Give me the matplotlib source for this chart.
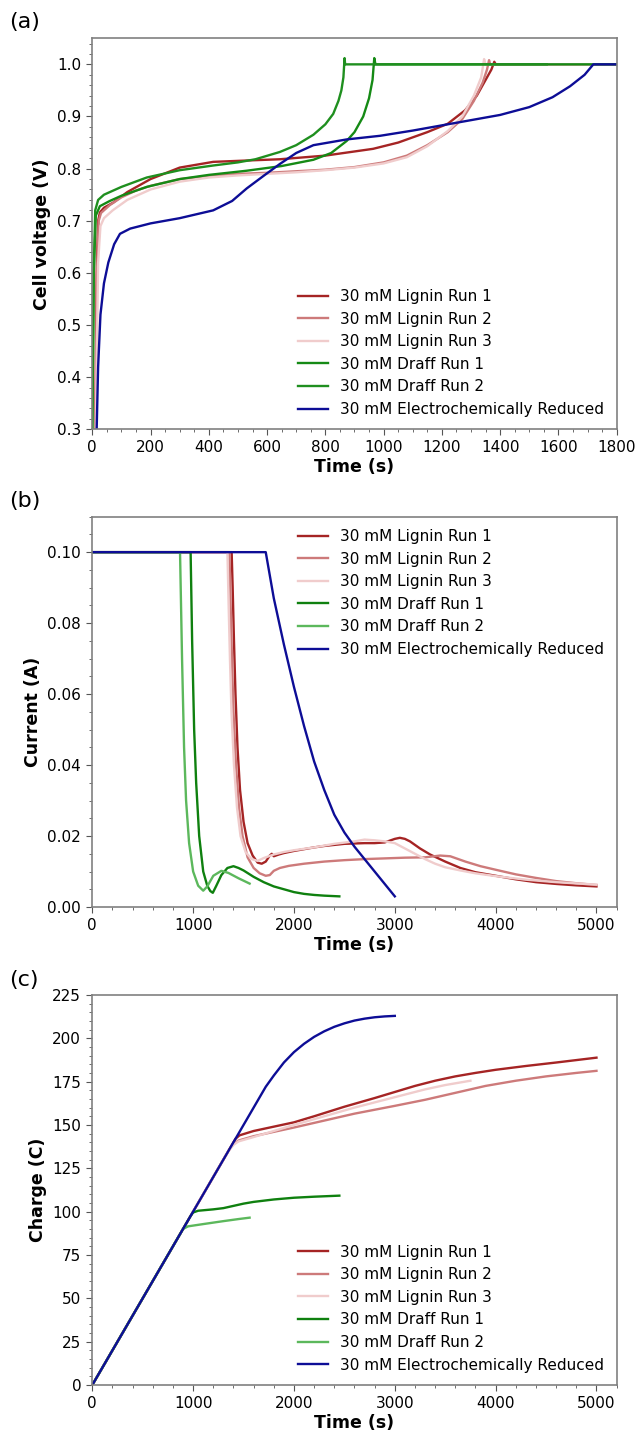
import numpy as np
import matplotlib
matplotlib.use('Agg')
import matplotlib.pyplot as plt

labels = ['30 mM Lignin Run 1', '30 mM Lignin Run 2', '30 mM Lignin Run 3',
          '30 mM Draff Run 1', '30 mM Draff Run 2', '30 mM Electrochemically Reduced']
colors_a = ['#a52424', '#cd7a7a', '#f0cccc', '#158a15', '#1f8f1f', '#0d0d96']
colors_bc = ['#a52424', '#cd7a7a', '#f0cccc', '#0f800f', '#5cb85c', '#0d0d96']

# (a) cell voltage
L1_a_t = [10, 15, 20, 26, 40, 72, 120, 200, 300, 415, 550, 644, 800, 964, 1050, 1150, 1220, 1280, 1320, 1350, 1370, 1380, 1385, 5000]
L1_a_v = [0.3, 0.6, 0.70, 0.716, 0.725, 0.735, 0.755, 0.78, 0.802, 0.813, 0.816, 0.818, 0.825, 0.838, 0.85, 0.87, 0.886, 0.912, 0.94, 0.97, 0.99, 1.005, 1.0, 1.0]
L2_a_t = [10, 16, 22, 30, 60, 100, 150, 200, 300, 400, 500, 600, 700, 800, 900, 1000, 1080, 1150, 1220, 1270, 1310, 1340, 1355, 1362, 1366, 5000]
L2_a_v = [0.3, 0.6, 0.70, 0.715, 0.73, 0.745, 0.758, 0.767, 0.78, 0.786, 0.79, 0.792, 0.795, 0.798, 0.803, 0.812, 0.825, 0.845, 0.87, 0.895, 0.93, 0.965, 0.99, 1.008, 1.0, 1.0]
L3_a_t = [12, 20, 28, 40, 70, 120, 200, 300, 400, 500, 600, 700, 800, 900, 1000, 1080, 1150, 1220, 1270, 1310, 1335, 1345, 1350, 5000]
L3_a_v = [0.3, 0.62, 0.69, 0.705, 0.72, 0.74, 0.76, 0.775, 0.783, 0.787, 0.79, 0.793, 0.797, 0.802, 0.81, 0.822, 0.843, 0.872, 0.9, 0.94, 0.975, 1.01, 1.0, 1.0]
D1_a_t = [0, 5, 12, 26, 60, 100, 187, 300, 400, 530, 650, 759, 820, 873, 900, 930, 950, 962, 968, 972, 2450]
D1_a_v = [0.3, 0.6, 0.71, 0.728, 0.738, 0.748, 0.765, 0.78, 0.788, 0.796, 0.805, 0.817, 0.83, 0.853, 0.87, 0.9, 0.935, 0.97, 1.012, 1.0, 1.0]
D2_a_t = [0, 5, 10, 20, 40, 100, 187, 300, 415, 500, 560, 644, 700, 759, 800, 827, 845, 855, 862, 866, 868, 1560]
D2_a_v = [0.3, 0.6, 0.72, 0.74, 0.75, 0.765, 0.783, 0.797, 0.806, 0.812, 0.818, 0.832, 0.845, 0.865, 0.885, 0.905, 0.93, 0.95, 0.975, 1.012, 1.0, 1.0]
ER_a_t = [15, 20, 28, 40, 55, 75, 95, 130, 200, 300, 415, 480, 530, 590, 644, 700, 759, 873, 988, 1100, 1200, 1300, 1400, 1500, 1580, 1640, 1690, 1720, 3000]
ER_a_v = [0.3, 0.42, 0.52, 0.58, 0.62, 0.655, 0.675, 0.685, 0.695, 0.705, 0.72, 0.738, 0.762, 0.787, 0.809, 0.83, 0.845, 0.856, 0.863, 0.873, 0.883, 0.893, 0.903, 0.918, 0.937, 0.958, 0.98, 1.0, 1.0]

# (b) current
L1_b_t = [0, 1382, 1392, 1405, 1420, 1440, 1465, 1500, 1540, 1590, 1640, 1680, 1720, 1760, 1780, 1800, 1850, 1900, 2000, 2100, 2200, 2300, 2400, 2500, 2600, 2700, 2800, 2900, 3000, 3050, 3100, 3150, 3250, 3350, 3500, 3650, 3800, 4000, 4200, 4400, 4600, 4800, 5000]
L1_b_i = [0.1, 0.1, 0.09, 0.075, 0.06, 0.045, 0.033, 0.024, 0.018, 0.0145, 0.0125, 0.0122, 0.0128, 0.0145, 0.015, 0.0143, 0.0148, 0.0152, 0.0158, 0.0163, 0.0168, 0.0172, 0.0175, 0.0178, 0.0179, 0.018, 0.018, 0.0182, 0.0192, 0.0195, 0.0192, 0.0185, 0.0165, 0.0148, 0.0128, 0.011, 0.0098, 0.0088, 0.0078, 0.007, 0.0065, 0.0061, 0.0058]
L2_b_t = [0, 1360, 1372, 1385, 1400, 1425, 1455, 1490, 1540, 1600, 1660, 1720, 1760, 1800, 1860, 1950, 2100, 2300, 2500, 2700, 2900, 3100, 3300, 3450, 3550, 3700, 3850, 4000, 4200, 4400, 4600, 4800, 5000]
L2_b_i = [0.1, 0.1, 0.085, 0.07, 0.055, 0.04, 0.028, 0.02, 0.014, 0.011, 0.0095, 0.0088, 0.009, 0.0102, 0.011, 0.0116, 0.0122, 0.0128, 0.0132, 0.0135, 0.0137, 0.0139, 0.014, 0.0145, 0.0143, 0.0128, 0.0115, 0.0105, 0.0092, 0.0082, 0.0073, 0.0067, 0.0062]
L3_b_t = [0, 1340, 1352, 1365, 1380, 1405, 1435, 1470, 1520, 1580, 1640, 1700, 1800, 1900, 2000, 2200, 2400, 2600, 2700, 2800, 2900, 3000, 3100, 3200, 3300, 3400, 3500, 3650, 3800, 4000, 4300, 4600, 5000]
L3_b_i = [0.1, 0.1, 0.085, 0.07, 0.055, 0.04, 0.028, 0.02, 0.0155, 0.0135, 0.013, 0.0138, 0.0148, 0.0155, 0.016, 0.0168, 0.0178, 0.0185, 0.019, 0.0188, 0.0185, 0.018, 0.0165, 0.015, 0.0135, 0.0122, 0.0112, 0.0103, 0.0095, 0.0087, 0.0077, 0.007, 0.0063]
D1_b_t = [0, 975, 990, 1010, 1030, 1060, 1100, 1140, 1170, 1195, 1230, 1280, 1340, 1400, 1450, 1500, 1600, 1700, 1800, 1900, 2000, 2100, 2200, 2300, 2450]
D1_b_i = [0.1, 0.1, 0.075, 0.05, 0.035, 0.02, 0.01, 0.006, 0.0045, 0.004, 0.006, 0.009, 0.011, 0.0115, 0.011, 0.0103, 0.0085, 0.007, 0.0058, 0.005, 0.0042, 0.0037, 0.0034, 0.0032, 0.003]
D2_b_t = [0, 870, 890, 910, 930, 960, 1000, 1050, 1100, 1140, 1200, 1280, 1350, 1450, 1560]
D2_b_i = [0.1, 0.1, 0.07, 0.045, 0.03, 0.018, 0.01, 0.006, 0.0046, 0.0058, 0.0088, 0.0102, 0.0096, 0.0081, 0.0066]
ER_b_t = [0, 1720, 1800, 1900, 2000, 2100, 2200, 2300, 2400, 2500, 2600, 2700, 2800, 2900, 3000]
ER_b_i = [0.1, 0.1, 0.087, 0.074, 0.062, 0.051, 0.041, 0.033, 0.026, 0.021, 0.017, 0.0135, 0.010, 0.0065, 0.003]

# (c) charge
L1_c_t = [0, 1385, 1420, 1460, 1600, 1800, 2000, 2200, 2500, 2800, 3000, 3200, 3400, 3600, 3800, 4000, 4300, 4600, 5000]
L1_c_q = [0, 138.5, 142, 144, 146.5, 149, 151.5, 155, 160.5, 165.5, 169, 172.5, 175.5, 178, 180, 181.8, 184, 186, 188.8]
L2_c_t = [0, 1360, 1400, 1450, 1600, 1800, 2000, 2300, 2600, 3000, 3300, 3600, 3900, 4200, 4500, 4800, 5000]
L2_c_q = [0, 136, 139, 141, 143.5, 146, 148.5, 152.5, 156.5, 161, 164.5, 168.5, 172.5, 175.5, 178, 180, 181.2]
L3_c_t = [0, 1340, 1400, 1450, 1600, 1800, 2000, 2300, 2600, 3000, 3300, 3500, 3750]
L3_c_q = [0, 134, 138.5, 140.5, 143, 146.5, 150, 155, 160, 166, 170.5, 173, 175.5]
D1_c_t = [0, 975, 1000, 1050, 1200, 1300, 1400, 1500, 1600, 1800, 2000, 2200, 2450]
D1_c_q = [0, 97.5, 99.5, 100.5, 101.3, 102, 103.3, 104.6, 105.6, 107, 108, 108.6, 109.2]
D2_c_t = [0, 870, 900, 950, 1100, 1300, 1450, 1560]
D2_c_q = [0, 87, 90, 91.5, 92.8, 94.5, 95.7, 96.5]
ER_c_t = [0, 1720, 1800, 1900, 2000, 2100, 2200, 2300, 2400, 2500, 2600, 2700, 2800, 2900, 3000]
ER_c_q = [0, 172, 178.5, 186, 192, 196.8, 200.8, 204, 206.6, 208.6, 210.2, 211.3, 212.1, 212.6, 212.9]

series_a = [(L1_a_t, L1_a_v), (L2_a_t, L2_a_v), (L3_a_t, L3_a_v), (D1_a_t, D1_a_v), (D2_a_t, D2_a_v), (ER_a_t, ER_a_v)]
series_b = [(L1_b_t, L1_b_i), (L2_b_t, L2_b_i), (L3_b_t, L3_b_i), (D1_b_t, D1_b_i), (D2_b_t, D2_b_i), (ER_b_t, ER_b_i)]
series_c = [(L1_c_t, L1_c_q), (L2_c_t, L2_c_q), (L3_c_t, L3_c_q), (D1_c_t, D1_c_q), (D2_c_t, D2_c_q), (ER_c_t, ER_c_q)]

fig = plt.figure(figsize=(6.41, 14.34), dpi=100)
ax_a = fig.add_axes([0.144, 0.7006, 0.818, 0.2727])
ax_b = fig.add_axes([0.144, 0.3675, 0.818, 0.2722])
ax_c = fig.add_axes([0.144, 0.0342, 0.818, 0.2720])


def style(ax):
    for s in ax.spines.values():
        s.set_color('#808080')
        s.set_linewidth(1.2)
    ax.minorticks_on()
    ax.tick_params(which='both', colors='#555555', labelcolor='black', labelsize=11)
    ax.tick_params(which='major', length=4.5)
    ax.tick_params(which='minor', length=2.5)


for ax, series, cols in [(ax_a, series_a, colors_a), (ax_b, series_b, colors_bc), (ax_c, series_c, colors_bc)]:
    for (t, y), c, lab in zip(series, cols, labels):
        ax.plot(t, y, color=c, lw=1.7, label=lab)
    style(ax)

leg_kw = dict(frameon=False, fontsize=11, labelspacing=0.5, borderaxespad=0.4)

ax_a.set_xlim(0, 1800)
ax_a.set_ylim(0.3, 1.05)
ax_a.set_xticks(np.arange(0, 1801, 200))
ax_a.set_ylabel('Cell voltage (V)', fontsize=12.5, fontweight='bold')
ax_a.set_xlabel('Time (s)', fontsize=12.5, fontweight='bold', labelpad=2)
ax_a.legend(loc='lower right', **leg_kw)

ax_b.set_xlim(0, 5200)
ax_b.set_ylim(0, 0.11)
ax_b.set_xticks(np.arange(0, 5001, 1000))
ax_b.set_yticks(np.arange(0, 0.101, 0.02))
ax_b.set_ylabel('Current (A)', fontsize=12.5, fontweight='bold')
ax_b.set_xlabel('Time (s)', fontsize=12.5, fontweight='bold', labelpad=2)
ax_b.legend(loc='upper right', **leg_kw)

ax_c.set_xlim(0, 5200)
ax_c.set_ylim(0, 225)
ax_c.set_xticks(np.arange(0, 5001, 1000))
ax_c.set_yticks(np.arange(0, 226, 25))
ax_c.set_ylabel('Charge (C)', fontsize=12.5, fontweight='bold')
ax_c.set_xlabel('Time (s)', fontsize=12.5, fontweight='bold', labelpad=2)
ax_c.legend(loc='lower right', **leg_kw)

fig.text(0.015, 0.9847, '(a)', fontsize=16, va='center')
fig.text(0.015, 0.6508, '(b)', fontsize=16, va='center')
fig.text(0.015, 0.3166, '(c)', fontsize=16, va='center')

fig.savefig('out.png', dpi=100)
